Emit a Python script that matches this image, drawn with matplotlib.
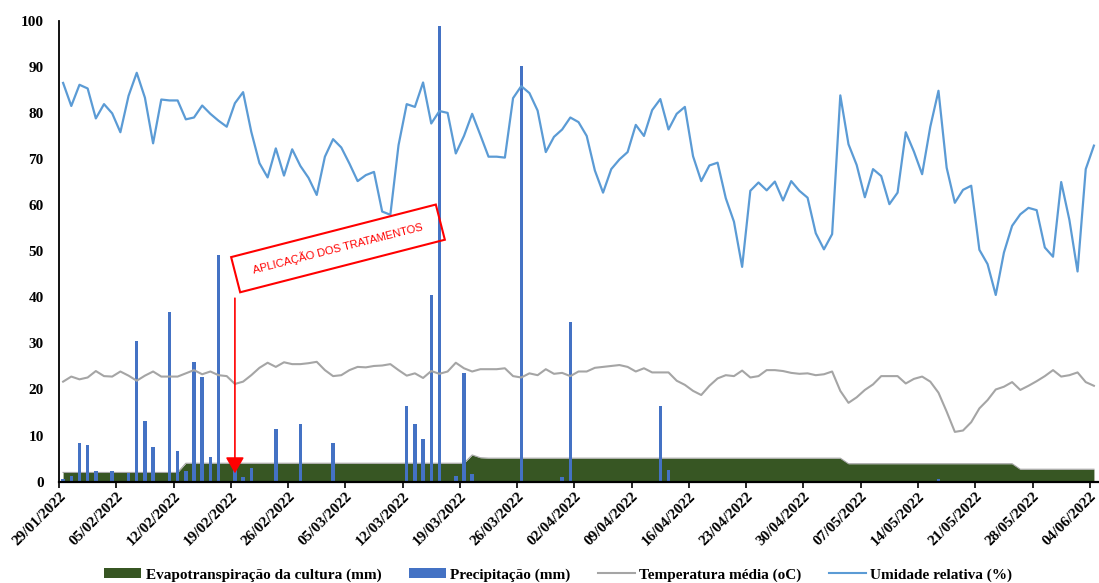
import numpy as np
import pandas as pd
import matplotlib
matplotlib.use('Agg')
import matplotlib.pyplot as plt
from matplotlib.lines import Line2D
from matplotlib.patches import Patch

plt.rcParams['font.family'] = ['Liberation Serif', 'DejaVu Serif']

# datas diarias 29/01/2022 a 04/06/2022
datas = pd.date_range('2022-01-29', '2022-06-04', freq='D')

umidade = [86.5, 81.5, 86.1, 85.3, 78.8, 81.9, 79.9, 75.8, 83.7, 88.7,
           83.3, 73.4, 82.9, 82.7, 82.7, 78.6, 79.0, 81.6, 79.8, 78.3,
           77.0, 82.1, 84.5, 75.9, 69.1, 66.0, 72.3, 66.4, 72.1, 68.5,
           65.9, 62.2, 70.5, 74.3, 72.5, 69.0, 65.2, 66.5, 67.2, 58.6,
           57.9, 73.0, 81.9, 81.3, 86.6, 77.7, 80.4, 80.0, 71.2, 75.0,
           79.8, 75.2, 70.5, 70.5, 70.3, 83.2, 85.8, 84.3, 80.5, 71.5,
           74.8, 76.4, 79.0, 78.0, 75.0, 67.5, 62.7, 67.8, 69.9, 71.5,
           77.4, 75.0, 80.6, 83.0, 76.4, 79.8, 81.3, 70.6, 65.2, 68.6,
           69.2, 61.5, 56.4, 46.6, 63.1, 64.9, 63.2, 65.1, 61.0, 65.2,
           63.1, 61.6, 53.9, 50.4, 53.7, 83.8, 73.2, 68.7, 61.7, 67.8,
           66.3, 60.2, 62.7, 75.8, 71.6, 66.7, 77.0, 84.8, 68.1, 60.5,
           63.3, 64.2, 50.3, 47.2, 40.5, 49.7, 55.5, 58.0, 59.4, 58.9,
           50.8, 48.8, 65.0, 56.8, 45.6, 67.8, 72.9]

temperatura = [21.7, 22.8, 22.2, 22.6, 24.0, 22.9, 22.8, 23.9, 23.0, 21.9,
               23.0, 23.9, 22.8, 22.8, 22.8, 23.5, 24.2, 23.3, 23.9, 23.1,
               22.9, 21.2, 21.7, 23.1, 24.7, 25.8, 24.9, 25.9, 25.5, 25.5,
               25.7, 26.0, 24.2, 22.9, 23.1, 24.2, 24.9, 24.8, 25.1, 25.2,
               25.5, 24.2, 23.0, 23.5, 22.5, 24.0, 23.4, 23.9, 25.8, 24.6,
               23.9, 24.4, 24.4, 24.4, 24.6, 22.9, 22.6, 23.5, 23.1, 24.4,
               23.4, 23.6, 22.9, 23.9, 23.9, 24.7, 24.9, 25.1, 25.3, 24.9,
               23.9, 24.6, 23.7, 23.7, 23.7, 21.9, 21.0, 19.7, 18.8, 20.8,
               22.4, 23.1, 22.9, 24.1, 22.6, 22.9, 24.2, 24.2, 24.0, 23.6,
               23.4, 23.5, 23.1, 23.3, 23.9, 19.7, 17.1, 18.3, 19.9, 21.1,
               22.9, 22.9, 22.9, 21.3, 22.3, 22.8, 21.7, 19.3, 15.2, 10.8,
               11.1, 12.9, 15.9, 17.7, 20.0, 20.6, 21.6, 19.9, 20.8, 21.8,
               22.9, 24.2, 22.8, 23.1, 23.7, 21.6, 20.8]

chuva = [0.6, 1.2, 8.3, 7.9, 2.3, 0.2, 2.3, 0.0, 1.8, 30.5,
         13.2, 7.5, 0.0, 36.7, 6.7, 2.4, 26.0, 22.6, 5.4, 49.2,
         0.0, 5.0, 1.1, 2.9, 0.0, 0.0, 11.4, 0.0, 0.0, 12.5,
         0.0, 0.0, 0.0, 8.3, 0.0, 0.0, 0.0, 0.0, 0.0, 0.0,
         0.0, 0.0, 16.4, 12.5, 9.2, 40.5, 98.9, 0.0, 1.3, 23.6,
         1.7, 0.0, 0.0, 0.0, 0.0, 0.0, 90.2, 0.2, 0.0, 0.0,
         0.0, 1.1, 34.6, 0.2, 0.0, 0.0, 0.0, 0.0, 0.0, 0.0,
         0.0, 0.0, 0.0, 16.4, 2.5, 0.0, 0.0, 0.2, 0.0, 0.0,
         0.0, 0.0, 0.0, 0.0, 0.0, 0.0, 0.0, 0.0, 0.0, 0.0,
         0.0, 0.0, 0.0, 0.0, 0.0, 0.2, 0.2, 0.0, 0.0, 0.0,
         0.0, 0.0, 0.0, 0.0, 0.0, 0.0, 0.0, 0.5, 0.0, 0.0,
         0.0, 0.0, 0.0, 0.0, 0.0, 0.0, 0.0, 0.0, 0.0, 0.0,
         0.0, 0.0, 0.0, 0.0, 0.0, 0.0, 0.0]

etc = [2.0, 2.0, 2.0, 2.0, 2.0, 2.0, 2.0, 2.0, 2.0, 2.0,
       2.0, 2.0, 2.0, 2.0, 2.0, 4.0, 4.0, 4.0, 4.0, 4.0,
       4.0, 4.0, 4.0, 4.0, 4.0, 4.0, 4.0, 4.0, 4.0, 4.0,
       4.0, 4.0, 4.0, 4.0, 4.0, 4.0, 4.0, 4.0, 4.0, 4.0,
       4.0, 4.0, 4.0, 4.0, 4.0, 4.0, 4.0, 4.0, 4.0, 4.0,
       5.8, 5.2, 5.1, 5.1, 5.1, 5.1, 5.1, 5.1, 5.1, 5.1,
       5.1, 5.1, 5.1, 5.1, 5.1, 5.1, 5.1, 5.1, 5.1, 5.1,
       5.1, 5.1, 5.1, 5.1, 5.1, 5.1, 5.1, 5.1, 5.1, 5.1,
       5.1, 5.1, 5.1, 5.1, 5.1, 5.1, 5.1, 5.1, 5.1, 5.1,
       5.1, 5.1, 5.1, 5.1, 5.1, 5.1, 3.9, 3.9, 3.9, 3.9,
       3.9, 3.9, 3.9, 3.9, 3.9, 3.9, 3.9, 3.9, 3.9, 3.9,
       3.9, 3.9, 3.9, 3.9, 3.9, 3.9, 3.9, 2.7, 2.7, 2.7,
       2.7, 2.7, 2.7, 2.7, 2.7, 2.7, 2.7]

dia_aplicacao = '2022-02-19'
texto_aplicacao = 'APLICAÇÃO DOS TRATAMENTOS'

# posicao: cada dia centrado entre as marcas
x = np.arange(len(datas)) + 0.5
pos_tick = np.arange(0, len(datas), 7)
rot_tick = [d.strftime('%d/%m/%Y') for d in datas[::7]]

fig = plt.figure(figsize=(10.99, 5.83), dpi=100)
ax = fig.add_axes([0.0537, 0.1738, 0.9454, 0.7907])

ax.fill_between(x, etc, 0, color='#375623', lw=0, zorder=1)
ax.plot(x, etc, color='#a6a6a6', lw=0.8, zorder=1.1)
ax.bar(x, chuva, width=0.42, color='#4472C4', zorder=2)
ax.plot(x, temperatura, color='#A5A5A5', lw=1.5, zorder=3)
ax.plot(x, umidade, color='#5B9BD5', lw=1.6, zorder=4)

# seta e caixa da aplicacao
xa = list(datas).index(pd.Timestamp(dia_aplicacao)) + 0.5
ax.annotate('', xy=(xa, 1.8), xytext=(xa, 39.8),
            arrowprops=dict(arrowstyle='-|>,head_length=0.7,head_width=0.4',
                            color='red', lw=1.2, mutation_scale=14,
                            shrinkA=0, shrinkB=0), zorder=6)
ax.text(34.1, 50.6, '  ' + texto_aplicacao + '  ', color='red', fontsize=8,
        family=['Liberation Sans', 'DejaVu Sans'], rotation=14.4,
        rotation_mode='anchor', ha='center', va='center', zorder=5,
        bbox=dict(boxstyle='square,pad=1.1', fc='none', ec='red', lw=1.5))

ax.set_xlim(0, len(datas))
ax.set_ylim(0, 100)
ax.set_yticks(range(0, 101, 10))
ax.set_xticks(pos_tick)
ax.set_xticklabels(rot_tick, rotation=45, ha='right', va='top',
                   rotation_mode='anchor', fontweight='bold', fontsize=11)
for t in ax.get_yticklabels():
    t.set_fontweight('bold')
ax.tick_params(axis='y', length=0, pad=11, labelsize=11)
ax.tick_params(axis='x', length=4, width=1.2, direction='out', pad=2)

ax.spines['top'].set_visible(False)
ax.spines['right'].set_visible(False)
ax.spines['left'].set_linewidth(1.3)
ax.spines['bottom'].set_linewidth(1.6)

handles = [Patch(facecolor='#375623', label='Evapotranspiração da cultura (mm)'),
           Patch(facecolor='#4472C4', label='Precipitação (mm)'),
           Line2D([], [], color='#A5A5A5', lw=1.5, label='Temperatura média (oC)'),
           Line2D([], [], color='#5B9BD5', lw=1.5, label='Umidade relativa (%)')]
fig.legend(handles=handles, loc='center', bbox_to_anchor=(0.508, 0.014),
           ncol=4, frameon=False, prop=dict(weight='bold', size=11),
           handlelength=2.4, handleheight=0.55, handletextpad=0.3,
           columnspacing=1.8)

fig.savefig('out.png', dpi=100)
